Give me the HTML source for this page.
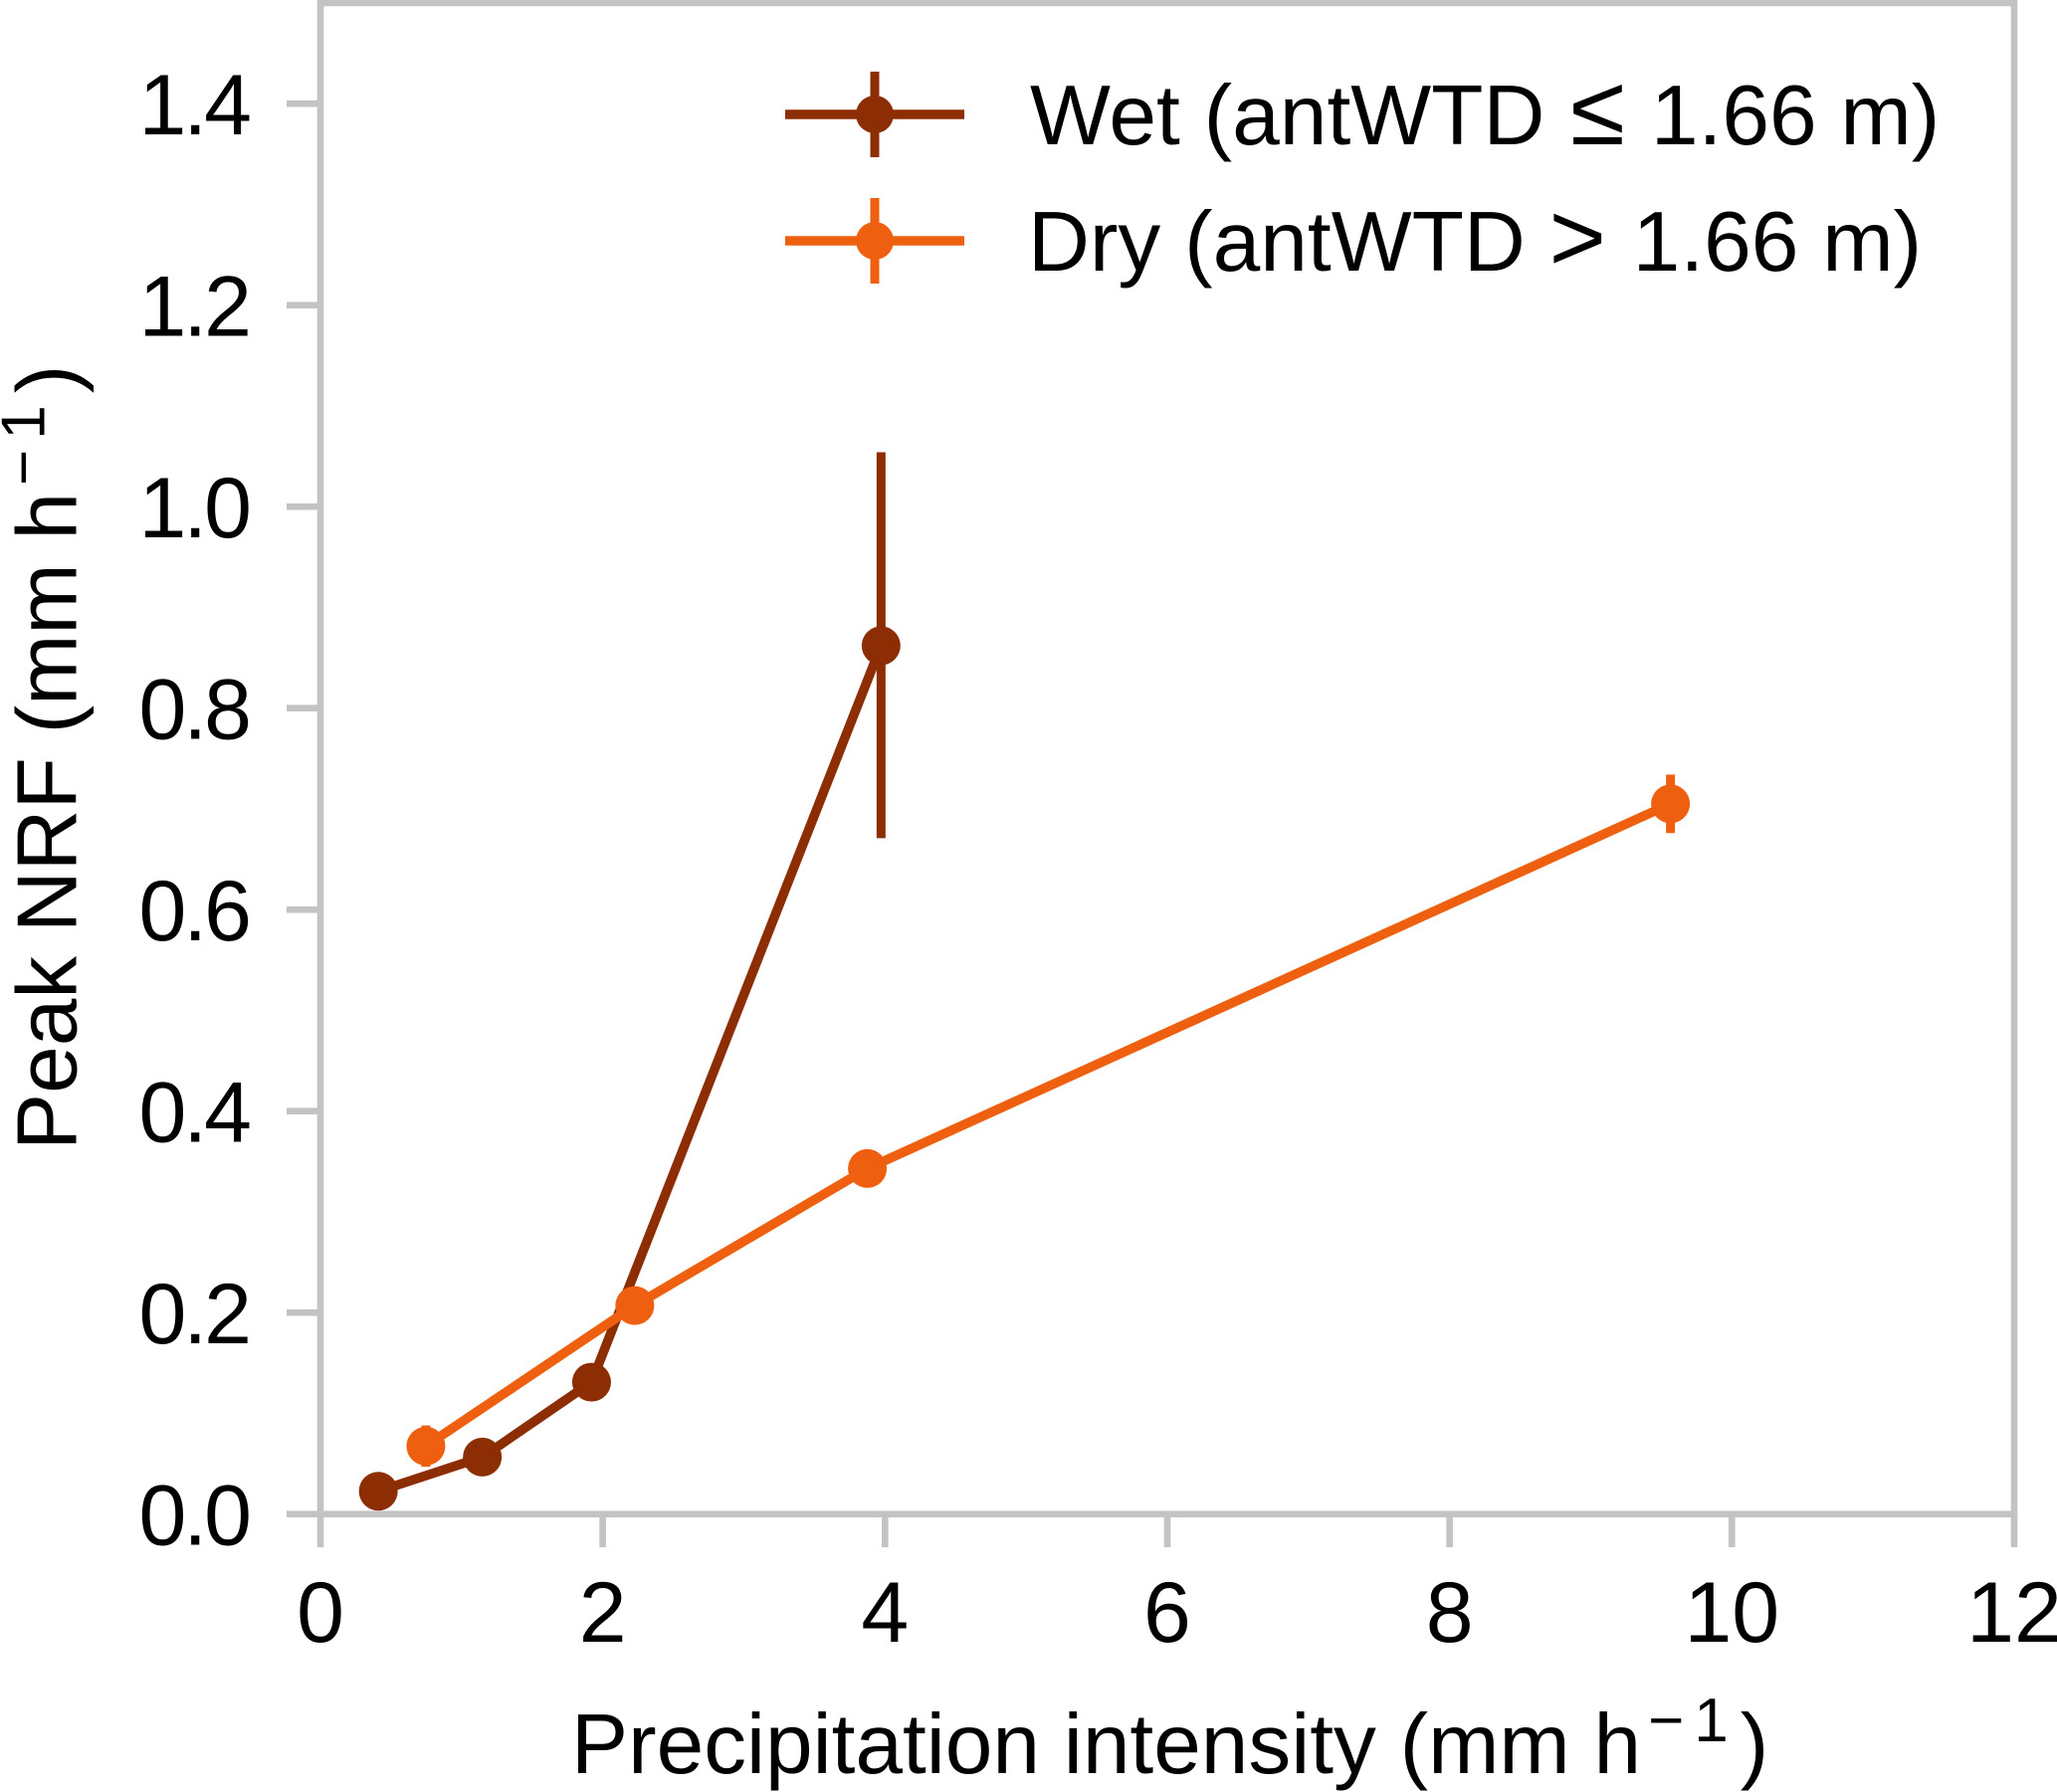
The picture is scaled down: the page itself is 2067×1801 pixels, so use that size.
<!DOCTYPE html>
<html>
<head>
<meta charset="utf-8">
<title>Peak NRF vs precipitation intensity</title>
<style>
html,body{margin:0;padding:0;background:#fff;}
svg{display:block;}
text{font-family:"Liberation Sans",Arial,sans-serif;fill:#000;}
</style>
</head>
<body>
<svg id="chart" xmlns="http://www.w3.org/2000/svg" width="2067" height="1801" viewBox="0 0 2067 1801">
  <rect x="0" y="0" width="2067" height="1801" fill="#ffffff"/>
  <g id="ticks"></g>
  <g id="series"></g>
  <rect x="322" y="3" width="1702" height="1518.7" fill="none" stroke="#c3c3c3" stroke-width="6.6"/>
  <g id="marks"></g>

  <text x="574" y="1782" font-size="85.6">Precipitation intensity (mm h<tspan font-size="62" dx="7" dy="-32">−</tspan><tspan font-size="62" dx="10">1</tspan><tspan font-size="85.6" dx="12" dy="32">)</tspan></text>
  <text transform="translate(76.5,1156) rotate(-90)" x="0" y="0" font-size="85.6">Peak NRF (mm h<tspan font-size="62" dx="7" dy="-32">−</tspan><tspan font-size="62" dx="10">1</tspan><tspan font-size="85.6" dx="12" dy="32">)</tspan></text>

  <g>
    <g>
      <line x1="789" y1="115" x2="969" y2="115" stroke="#8c2d04" stroke-width="9.5"/>
      <line x1="879" y1="72" x2="879" y2="158" stroke="#8c2d04" stroke-width="9"/>
      <circle cx="879" cy="115" r="19" fill="#8c2d04"/>
      <text x="1035" y="145" font-size="85.7">Wet (antWTD <tspan font-size="100" dx="2">≤</tspan><tspan dx="2"> 1.66 m)</tspan></text>
    </g>
    <g>
      <line x1="789" y1="242" x2="969" y2="242" stroke="#ee6010" stroke-width="9.5"/>
      <line x1="879" y1="199" x2="879" y2="285" stroke="#ee6010" stroke-width="9"/>
      <circle cx="879" cy="242" r="19" fill="#ee6010"/>
      <text x="1033" y="272" font-size="85.7">Dry (antWTD <tspan font-size="98">&gt;</tspan><tspan dx="3"> 1.66 m)</tspan></text>
    </g>
  </g>
</svg>
<script>
var xTickValues = [0, 2, 4, 6, 8, 10, 12];
var xTickLabels = ["0", "2", "4", "6", "8", "10", "12"];
var yTickValues = [0, 0.2, 0.4, 0.6, 0.8, 1.0, 1.2, 1.4];
var yTickLabels = ["0.0", "0.2", "0.4", "0.6", "0.8", "1.0", "1.2", "1.4"];

var wetX = [0.41, 1.147, 1.921, 3.972];
var wetY = [0.0227, 0.0566, 0.131, 0.862];
var wetLow = [0.018, 0.051, 0.124, 0.671];
var wetHigh = [0.027, 0.062, 0.138, 1.054];

var dryX = [0.747, 2.227, 3.875, 9.565];
var dryY = [0.0675, 0.207, 0.343, 0.705];
var dryLow = [0.047, 0.198, 0.333, 0.676];
var dryHigh = [0.088, 0.216, 0.353, 0.734];

function xScale(v) { return 322 + v * 141.83; }
function yScale(v) { return 1521.7 - v * 1012.5; }

var NS = "http://www.w3.org/2000/svg";
var tickGroup = document.getElementById("ticks");
var seriesGroup = document.getElementById("series");
var marksGroup = document.getElementById("marks");

function svgEl(tag, attrs, parent) {
  var el = document.createElementNS(NS, tag);
  for (var k in attrs) { el.setAttribute(k, attrs[k]); }
  parent.appendChild(el);
  return el;
}

xTickValues.forEach(function (v, i) {
  var px = xScale(v);
  var tick = svgEl("line", {x1: px, y1: 1521.7, x2: px, y2: 1555, stroke: "#c3c3c3", "stroke-width": 6.6}, tickGroup);
  
  
  var label = svgEl("text", {x: px, y: 1650, "font-size": 86, "text-anchor": "middle"}, tickGroup);
  
  
  label.textContent = xTickLabels[i];
});

yTickValues.forEach(function (v, i) {
  var py = yScale(v);
  var tick = svgEl("line", {x1: 288, y1: py, x2: 322, y2: py, stroke: "#c3c3c3", "stroke-width": 6.6}, tickGroup);
  
  
  var label = svgEl("text", {x: 250, y: py + 31, "font-size": 86, "text-anchor": "end", "letter-spacing": -3}, tickGroup);
  
  
  label.textContent = yTickLabels[i];
});

function drawSeries(xs, ys, lows, highs, color) {
  var pts = xs.map(function (x, i) { return xScale(x) + "," + yScale(ys[i]); }).join(" ");
  var line = svgEl("polyline", {points: pts, fill: "none", stroke: color, "stroke-width": 9.5, "stroke-linejoin": "round"}, seriesGroup);
  
  
  xs.forEach(function (x, i) {
    var err = svgEl("line", {x1: xScale(x), y1: yScale(lows[i]), x2: xScale(x), y2: yScale(highs[i]), stroke: color, "stroke-width": 9}, seriesGroup);
    
    
    var pt = svgEl("circle", {cx: xScale(x), cy: yScale(ys[i]), r: 19.5, fill: color}, seriesGroup);
    
    
  });
}

drawSeries(wetX, wetY, wetLow, wetHigh, "#8c2d04");
drawSeries(dryX, dryY, dryLow, dryHigh, "#ee6010");
</script>
</body>
</html>
